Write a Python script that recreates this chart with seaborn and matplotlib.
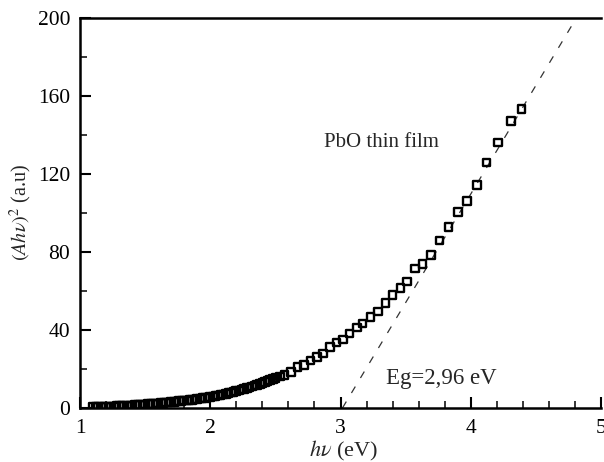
import matplotlib
matplotlib.use("Agg")
import matplotlib.pyplot as plt
from matplotlib.ticker import MultipleLocator
import seaborn as sns
import pandas as pd

# measured data (hv in eV, (Ahv)^2 in a.u.)
hv = [1.10, 1.12, 1.14, 1.16, 1.18, 1.20, 1.22, 1.24, 1.26, 1.28,
      1.30, 1.32, 1.34, 1.36, 1.38, 1.40, 1.42, 1.44, 1.46, 1.48,
      1.50, 1.52, 1.54, 1.56, 1.58, 1.60, 1.62, 1.64, 1.66, 1.68,
      1.70, 1.72, 1.74, 1.76, 1.78, 1.80, 1.82, 1.84, 1.86, 1.88,
      1.90, 1.92, 1.94, 1.96, 1.98, 2.00, 2.02, 2.04, 2.06, 2.08,
      2.10, 2.12, 2.14, 2.16, 2.18, 2.20, 2.22, 2.24, 2.26, 2.28,
      2.30, 2.32, 2.34, 2.36, 2.38, 2.40, 2.42, 2.44, 2.46, 2.48,
      2.50, 2.535, 2.57, 2.62, 2.67, 2.72, 2.77, 2.82, 2.865, 2.92,
      2.97, 3.02, 3.07, 3.125, 3.17, 3.23, 3.29, 3.345, 3.40, 3.46,
      3.51, 3.57, 3.63, 3.695, 3.76, 3.83, 3.90, 3.97, 4.05, 4.12,
      4.21, 4.31, 4.39]
ahv2 = [0.40, 0.45, 0.50, 0.55, 0.60, 0.65, 0.70, 0.75, 0.80, 0.90,
        0.95, 1.00, 1.10, 1.15, 1.25, 1.30, 1.40, 1.50, 1.60, 1.70,
        1.80, 1.90, 2.00, 2.15, 2.30, 2.40, 2.50, 2.60, 2.75, 2.90,
        3.00, 3.15, 3.30, 3.45, 3.60, 3.75, 3.90, 4.05, 4.25, 4.40,
        4.60, 4.80, 5.00, 5.20, 5.45, 5.70, 5.90, 6.15, 6.40, 6.70,
        7.00, 7.30, 7.60, 7.95, 8.30, 8.60, 9.00, 9.40, 9.80, 10.2,
        10.6, 11.0, 11.45, 11.9, 12.4, 12.85, 13.3, 13.8, 14.3, 14.85,
        15.3, 16.1, 16.9, 18.6, 20.9, 22.1, 24.3, 26.3, 28.0, 31.4,
        33.5, 35.2, 38.3, 41.2, 43.4, 46.8, 49.4, 53.7, 58.0, 61.4,
        64.8, 71.6, 73.8, 78.5, 85.8, 92.7, 100.5, 106.3, 114.4, 125.8,
        136.1, 147.2, 153.2]

# linear extrapolation (Tauc fit)
fit_x = [3.015, 4.78]
fit_y = [0.0, 196.6]

x_ticks = [1, 2, 3, 4, 5]
y_ticks = [0, 40, 80, 120, 160, 200]

sns.set_style("ticks")
plt.rcParams["font.family"] = ["Liberation Serif", "DejaVu Serif"]
plt.rcParams["mathtext.fontset"] = "stix"

df = pd.DataFrame({"hv": hv, "ahv2": ahv2})
fit = pd.DataFrame({"x": fit_x, "y": fit_y})

fig = plt.figure(figsize=(6.04, 4.62), dpi=100)
ax = fig.add_axes([80 / 604, 1 - 408 / 462, 521 / 604, 390 / 462])

sns.lineplot(data=fit, x="x", y="y", ax=ax, color="#333333", lw=0.9,
             dashes=False, linestyle=(0, (6, 8)), zorder=1)
sns.scatterplot(data=df, x="hv", y="ahv2", ax=ax, marker="s", s=30,
                facecolor="none", edgecolor="black", linewidth=1.7, zorder=2)

ax.set_xlim(1, 5)
ax.set_ylim(0, 200)
ax.set_xticks(x_ticks)
ax.set_yticks(y_ticks)
ax.xaxis.set_minor_locator(MultipleLocator(0.2))
ax.yaxis.set_minor_locator(MultipleLocator(20))
ax.tick_params(which="major", direction="in", length=8, width=1.5,
               labelsize=15.5, colors="black")
ax.tick_params(which="minor", direction="in", length=5, width=1.3)
ax.tick_params(axis="x", pad=8)
ax.tick_params(axis="y", pad=7)

for s in ["left", "bottom", "top"]:
    ax.spines[s].set_linewidth(1.8)
    ax.spines[s].set_color("black")
ax.spines["right"].set_visible(False)

ax.set_xlabel(r"$h\nu$ (eV)", fontsize=16)
ax.xaxis.set_label_coords(0.505, -0.08)
ax.set_ylabel(r"$(Ah\nu)^2$ (a.u)", fontsize=14.5)
ax.yaxis.set_label_coords(-0.088, 0.5)

ax.text(2.87, 136, "PbO thin film", fontsize=15, va="center", ha="left")
ax.text(3.35, 15, "Eg=2,96 eV", fontsize=16.5, va="center", ha="left")

fig.savefig("out.png", dpi=100)
